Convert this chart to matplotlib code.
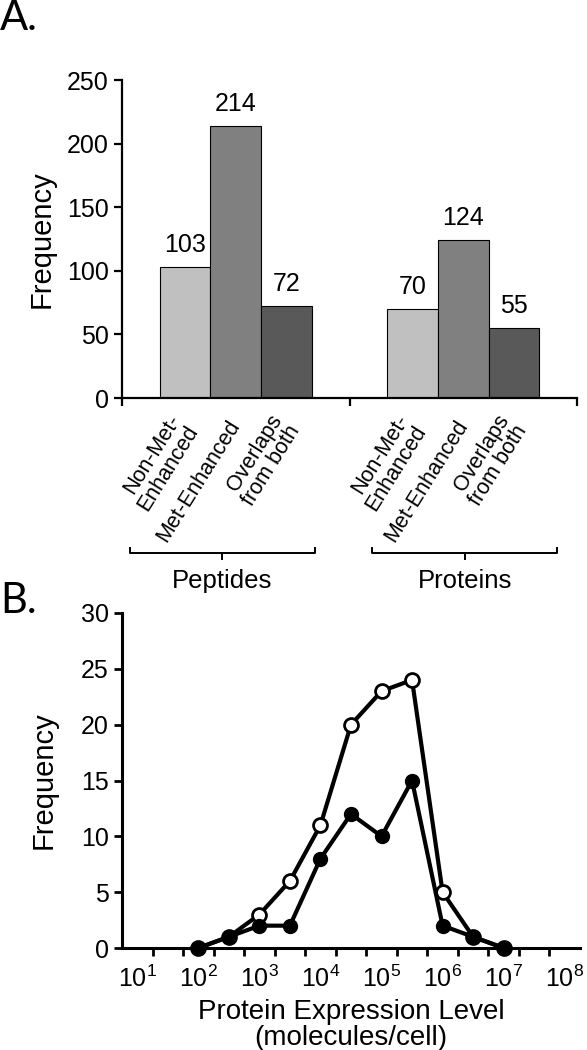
import matplotlib
matplotlib.use("Agg")
import matplotlib.pyplot as plt
from matplotlib.lines import Line2D
from matplotlib.ticker import FixedLocator, NullFormatter

plt.rcParams['font.family'] = ['Liberation Sans', 'DejaVu Sans']
plt.rcParams['mathtext.fontset'] = 'custom'
plt.rcParams['mathtext.rm'] = 'Liberation Sans'
plt.rcParams['mathtext.it'] = 'Liberation Sans:italic'

# ---------------- Data ----------------
groups = ["Peptides", "Proteins"]
categories = ["Non-Met-\nEnhanced", "Met-Enhanced", "Overlaps\nfrom both"]
peptides = [103, 214, 72]
proteins = [70, 124, 55]
bar_colors = ["#c0c0c0", "#808080", "#595959"]

expr_levels = [1e2, 3.16e2, 1e3, 3.16e3, 1e4, 3.16e4, 1e5, 3.16e5, 1e6, 3.16e6, 1e7]
freq_open = [0, 1, 3, 6, 11, 20, 23, 24, 5, 1, 0]
freq_filled = [0, 1, 2, 2, 8, 12, 10, 15, 2, 1, 0]
decade_ticks = [1e1, 1e2, 1e3, 1e4, 1e5, 1e6, 1e7, 1e8]
decade_labels = [r"$10^{1}$", r"$10^{2}$", r"$10^{3}$", r"$10^{4}$",
                 r"$10^{5}$", r"$10^{6}$", r"$10^{7}$", r"$10^{8}$"]

W, H = 587, 1050
fig = plt.figure(figsize=(W / 100, H / 100), dpi=100)

def fx(px):
    return px / W

def fy(py):
    return 1 - py / H

# ---------------- Panel A ----------------
axA = fig.add_axes([fx(122), fy(398), fx(577) - fx(122), fy(80) - fy(398)])
bw = 1 / 4.5
positions = []
labels = []
for gi, vals in enumerate([peptides, proteins]):
    for ci, v in enumerate(vals):
        x = gi + (ci - 1) * bw
        axA.bar(x, v, width=bw, color=bar_colors[ci], edgecolor="black", linewidth=0.8, zorder=2)
        axA.text(x, v + 8, str(v), ha="center", va="bottom", fontsize=18)
        positions.append(x)
        labels.append(categories[ci])

axA.set_xlim(-0.5, 1.5)
axA.set_ylim(0, 250)
axA.set_yticks([0, 50, 100, 150, 200, 250])
axA.tick_params(axis="y", labelsize=18, width=1.6, length=6, direction="out")
axA.set_xticks(positions)
axA.set_xticklabels(labels, rotation=58, ha="right", va="center",
                    rotation_mode="anchor", fontsize=15.5, linespacing=1.0)
axA.tick_params(axis="x", length=0, pad=17)
axA.xaxis.set_minor_locator(FixedLocator([-0.5, 0.5, 1.5]))
axA.tick_params(axis="x", which="minor", length=6, width=1.6, direction="out")
for s in ["top", "right"]:
    axA.spines[s].set_visible(False)
for s in ["left", "bottom"]:
    axA.spines[s].set_linewidth(1.6)
axA.set_ylabel("Frequency", fontsize=21, labelpad=8)

# brackets
for (x0, x1, xc, name) in [(130, 315, 222, groups[0]), (372, 557, 465, groups[1])]:
    y = 553
    fig.add_artist(Line2D([fx(x0), fx(x0), fx(x1), fx(x1)],
                          [fy(y - 5), fy(y), fy(y), fy(y - 5)],
                          transform=fig.transFigure, color="black", lw=1.4))
    fig.add_artist(Line2D([fx(xc), fx(xc)], [fy(y), fy(y + 6)],
                          transform=fig.transFigure, color="black", lw=1.4))
    fig.text(fx(xc), fy(581), name, ha="center", va="center", fontsize=18.5)

# ---------------- Panel B ----------------
axB = fig.add_axes([fx(122), fy(948), fx(580) - fx(122), fy(613) - fy(948)])
axB.set_xscale("log")
axB.plot(expr_levels, freq_open, color="black", lw=3, marker="o", markersize=10,
         markerfacecolor="white", markeredgecolor="black", markeredgewidth=2, zorder=3,
         clip_on=False)
axB.plot(expr_levels, freq_filled, color="black", lw=3, marker="o", markersize=10,
         markerfacecolor="black", markeredgecolor="black", zorder=4, clip_on=False)
axB.set_xlim(10 ** 0.75, 10 ** 8.25)
axB.set_ylim(0, 30)
axB.set_yticks([0, 5, 10, 15, 20, 25, 30])
axB.tick_params(axis="y", labelsize=18, width=2, length=6, direction="out")
axB.xaxis.set_major_locator(FixedLocator(decade_ticks))
axB.set_xticklabels(decade_labels)
axB.tick_params(axis="x", which="major", length=0, pad=13, labelsize=18)
axB.xaxis.set_minor_locator(FixedLocator([10 ** (1.25 + 0.5 * k) for k in range(14)]))
axB.xaxis.set_minor_formatter(NullFormatter())
axB.tick_params(axis="x", which="minor", length=6, width=2, direction="out")
for s in ["top", "right"]:
    axB.spines[s].set_visible(False)
for s in ["left", "bottom"]:
    axB.spines[s].set_linewidth(2.2)
axB.set_ylabel("Frequency", fontsize=21, labelpad=17)
axB.set_xlabel("Protein Expression Level\n(molecules/cell)", fontsize=20,
               linespacing=1.0, labelpad=5)

fig.text(0.0, fy(18), "A.", fontsize=30, family=["Lato", "DejaVu Sans"], va="center", ha="left")
fig.text(0.0, fy(601), "B.", fontsize=30, family=["Lato", "DejaVu Sans"], va="center", ha="left")

fig.savefig("out.png", dpi=100)
